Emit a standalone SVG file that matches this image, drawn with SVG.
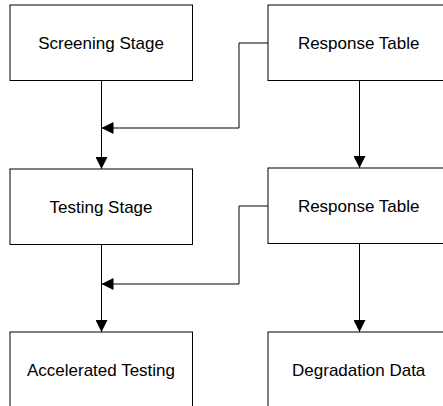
<svg xmlns="http://www.w3.org/2000/svg" width="443" height="406" viewBox="0 0 443 406">
<style>
.box{fill:#fff;stroke:#000;stroke-width:1}
.lbl{font-family:"Liberation Sans",Arial,sans-serif;font-size:17px;fill:#000;text-anchor:middle}
.conn{fill:none;stroke:#000;stroke-width:1}
</style>
<defs>
<marker id="arr" markerUnits="userSpaceOnUse" markerWidth="12" markerHeight="12" viewBox="0 0 10 10" refX="10" refY="5" orient="auto">
<path d="M0,0 L10,5 L0,10 Z" fill="#000"/>
</marker>
</defs>
<rect width="443" height="406" fill="#fff"/>
<g id="connectors">
<path class="conn" d="M101.5,81 V169" marker-end="url(#arr)"/>
<path class="conn" d="M359.5,81 V168" marker-end="url(#arr)"/>
<path class="conn" d="M268,43 H239 V128 H101.5" marker-end="url(#arr)"/>
<path class="conn" d="M101.5,245 V332" marker-end="url(#arr)"/>
<path class="conn" d="M359.5,244 V332" marker-end="url(#arr)"/>
<path class="conn" d="M268,206 H239 V284 H101.5" marker-end="url(#arr)"/>
</g>
<g id="screening">
<rect class="box" x="10" y="5" width="182.5" height="75.5"/>
<text class="lbl" x="101" y="49.3">Screening Stage</text>
</g>
<g id="response1">
<rect class="box" x="268" y="5" width="182.5" height="75.5"/>
<text class="lbl" x="358.7" y="49.3">Response Table</text>
</g>
<g id="testing">
<rect class="box" x="10" y="169" width="182.5" height="75.5"/>
<text class="lbl" x="101" y="212.7">Testing Stage</text>
</g>
<g id="response2">
<rect class="box" x="268" y="168" width="182.5" height="75.5"/>
<text class="lbl" x="358.7" y="211.7">Response Table</text>
</g>
<g id="accelerated">
<rect class="box" x="10" y="332" width="182.5" height="75.5"/>
<text class="lbl" x="101" y="375.5">Accelerated Testing</text>
</g>
<g id="degradation">
<rect class="box" x="268" y="332" width="182.5" height="75.5"/>
<text class="lbl" x="358.7" y="375.5">Degradation Data</text>
</g>
</svg>
